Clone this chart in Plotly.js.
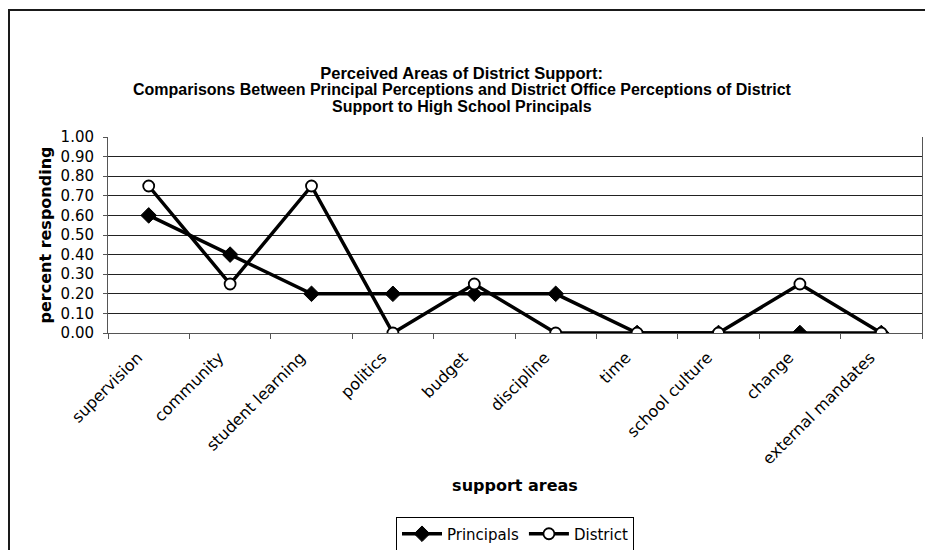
<!DOCTYPE html>
<html>
<head>
<meta charset="utf-8">
<script src="https://cdn.plot.ly/plotly-3.0.1.min.js"></script>
<style>
  html, body { margin: 0; padding: 0; background: #fff; }
  #wrap { position: relative; width: 925px; height: 550px; overflow: hidden; }
  #chart { position: absolute; left: 0; top: 0; width: 925px; height: 550px; }
  #frame { position: absolute; left: 8px; top: 9px; width: 930px; height: 560px;
           border-left: 2px solid #1a1a1a; border-top: 2px solid #1a1a1a;
           pointer-events: none; }
</style>
</head>
<body>
<div id="wrap">
  <div id="chart"></div>
  <div id="frame"></div>
</div>
<script>
// Support areas asked about in the survey
const supportAreas = [
  "supervision", "community", "student learning", "politics", "budget",
  "discipline", "time", "school culture", "change", "external mandates"
];

// Share of respondents naming each area
const principals = [0.60, 0.40, 0.20, 0.20, 0.20, 0.20, 0.00, 0.00, 0.00, 0.00];
const district   = [0.75, 0.25, 0.75, 0.00, 0.25, 0.00, 0.00, 0.00, 0.25, 0.00];

const yTicks = [0, 0.1, 0.2, 0.3, 0.4, 0.5, 0.6, 0.7, 0.8, 0.9, 1.0];
const yTickText = yTicks.map(v => v.toFixed(2));

const sansFamily = "DejaVu Sans, Verdana, sans-serif";
const titleFont = { family: "Liberation Sans, Arial, sans-serif", color: "#000" };

const traces = [
  {
    name: "Principals",
    x: supportAreas,
    y: principals,
    type: "scatter",
    mode: "lines+markers",
    line: { color: "#000", width: 3.5 },
    marker: { symbol: "diamond", size: 12, color: "#000", line: { color: "#000", width: 1 } }
  },
  {
    name: "District",
    x: supportAreas,
    y: district,
    type: "scatter",
    mode: "lines+markers",
    line: { color: "#000", width: 3.5 },
    marker: { symbol: "circle", size: 11, color: "#fff", line: { color: "#000", width: 1.8 } }
  }
];

const layout = {
  width: 925,
  height: 550,
  margin: { l: 108, r: 3, t: 137, b: 217, autoexpand: false },
  paper_bgcolor: "#fff",
  plot_bgcolor: "#fff",
  showlegend: true,
  title: {
    text: "<b>Perceived Areas of District Support:</b>",
    font: Object.assign({ size: 16.5 }, titleFont),
    x: 0.499, xref: "container", xanchor: "center",
    y: 1 - 73 / 550, yref: "container", yanchor: "middle"
  },
  annotations: [
    {
      text: "<b>Comparisons Between Principal Perceptions and District Office Perceptions of District</b>",
      xref: "paper", yref: "paper", x: 0.4355, y: (333 - 90) / 196,
      xanchor: "center", yanchor: "middle", showarrow: false,
      font: Object.assign({ size: 16 }, titleFont)
    },
    {
      text: "<b>Support to High School Principals</b>",
      xref: "paper", yref: "paper", x: 0.4355, y: (333 - 106) / 196,
      xanchor: "center", yanchor: "middle", showarrow: false,
      font: Object.assign({ size: 16 }, titleFont)
    }
  ],
  xaxis: {
    type: "category",
    categoryorder: "array",
    categoryarray: supportAreas,
    range: [-0.5, 9.5],
    tickson: "boundaries",
    ticks: "outside",
    ticklen: 5,
    tickcolor: "#555",
    tickangle: -45,
    tickfont: { family: sansFamily, size: 16, color: "#000" },
    ticklabelstandoff: 8,
    ticklabelshift: -11,
    showline: true,
    linecolor: "#555",
    linewidth: 1,
    mirror: false,
    showgrid: false,
    zeroline: false,
    title: {
      text: "<b>support areas</b>",
      font: { family: sansFamily, size: 16, color: "#000" },
      standoff: 12
    },
    fixedrange: true
  },
  yaxis: {
    range: [0, 1],
    tickvals: yTicks,
    ticktext: yTickText,
    ticks: "outside",
    ticklen: 4,
    tickcolor: "#555",
    tickfont: { family: sansFamily, size: 15, color: "#000" },
    ticklabelstandoff: 6,
    showline: true,
    linecolor: "#555",
    linewidth: 1,
    mirror: true,
    showgrid: true,
    gridcolor: "#222",
    gridwidth: 1,
    zeroline: false,
    title: {
      text: "<b>percent responding</b>",
      font: { family: sansFamily, size: 16, color: "#000" },
      standoff: 4
    },
    fixedrange: true
  },
  legend: {
    orientation: "h",
    x: 0.5, xanchor: "center",
    y: (333 - 534) / 196, yanchor: "middle",
    bordercolor: "#000",
    borderwidth: 1,
    bgcolor: "#fff",
    font: { family: sansFamily, size: 15, color: "#000" },
    itemwidth: 40,
    tracegroupgap: 0
  }
};

Plotly.newPlot("chart", traces, layout, { displayModeBar: false, staticPlot: true });
</script>
</body>
</html>
